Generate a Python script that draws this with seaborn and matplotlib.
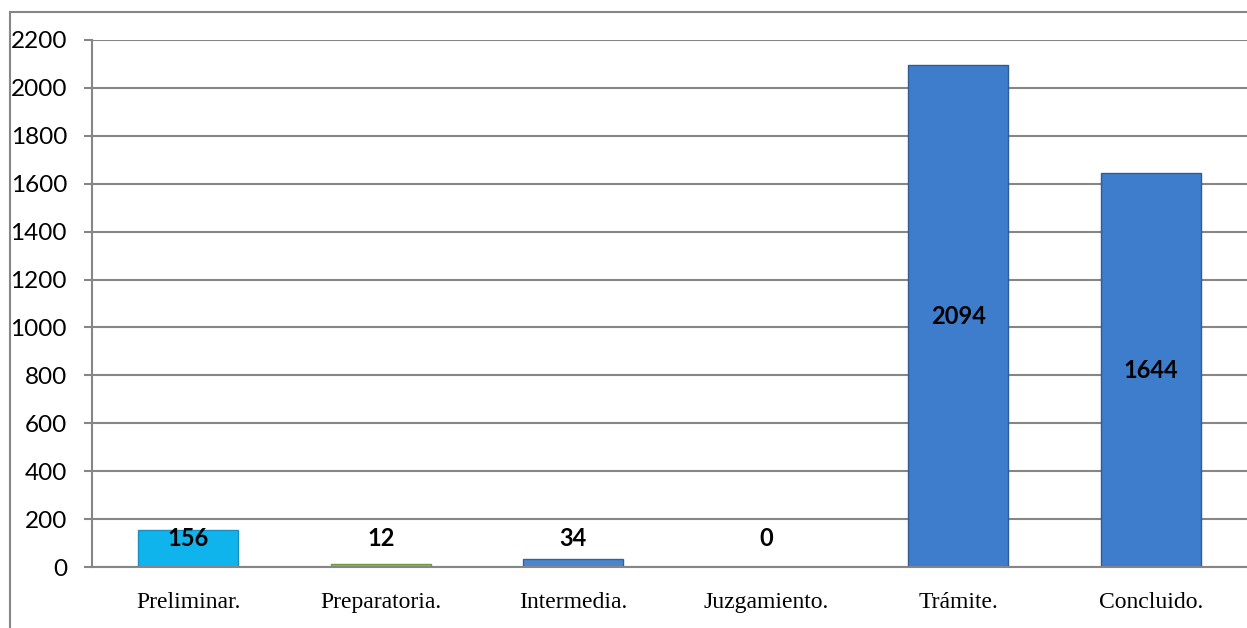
import matplotlib
matplotlib.use("Agg")
import matplotlib.pyplot as plt
import seaborn as sns
import pandas as pd
import numpy as np
from matplotlib.patches import Rectangle

categories = ["Preliminar.", "Preparatoria.", "Intermedia.", "Juzgamiento.", "Trámite.", "Concluido."]
values = [156, 12, 34, 0, 2094, 1644]
bar_colors = ["#10B4EC", "#8DC04C", "#4A86D0", "#4A86D0", "#3D7DCC", "#3D7DCC"]
edge_colors = ["#1A8FBF", "#6E9A3A", "#33629C", "#33629C", "#2F5C94", "#2F5C94"]
yticks = [0, 200, 400, 600, 800, 1000, 1200, 1400, 1600, 1800, 2000, 2200]

sns.set_style("white")
df = pd.DataFrame({"cat": categories, "val": values})

fig = plt.figure(figsize=(12.47, 6.28), dpi=100)
ax = fig.add_axes([92/1247, 1-567/628, 1-92/1247, (567-40)/628])

sns.barplot(data=df, x="cat", y="val", hue="cat", palette=bar_colors, legend=False,
            width=0.52, ax=ax, linewidth=1.0, saturation=1)
for p, ec in zip(ax.patches, edge_colors):
    p.set_edgecolor(ec)

ax.set_ylim(0, 2200)
ax.set_xlim(-0.5, len(categories) - 0.5)
ax.set_yticks(yticks)
ax.set_yticklabels([str(t) for t in yticks], fontsize=17.5, family="Lato", color="black")
ax.set_xticks(range(len(categories)))
ax.set_xticklabels(categories, fontsize=17, family="Liberation Serif", color="black")
ax.set_xticks(np.arange(len(categories) + 1) - 0.5, minor=True)
ax.tick_params(axis="x", which="major", length=0, pad=18)
ax.tick_params(axis="x", which="minor", length=6, color="#868686", width=1.5)
ax.tick_params(axis="y", length=6, color="#868686", width=1.5, pad=12, left=True)
ax.set_xlabel("")
ax.set_ylabel("")
ax.yaxis.grid(True, color="#868686", linewidth=1.5)
ax.set_axisbelow(True)
for s in ["top", "right"]:
    ax.spines[s].set_visible(False)
for s in ["left", "bottom"]:
    ax.spines[s].set_color("#868686")
    ax.spines[s].set_linewidth(1.5)

for i, v in enumerate(values):
    ypos = max(v / 2, 120)
    ax.text(i, ypos, str(v), ha="center", va="center", fontsize=17,
            fontweight="bold", family="Lato", color="black")

fig.patches.append(Rectangle((10/1247, -0.1), 1.2, 1.1-12/628, transform=fig.transFigure,
                             fill=False, edgecolor="#868686", linewidth=1.5))

fig.savefig("out.png", dpi=100)
